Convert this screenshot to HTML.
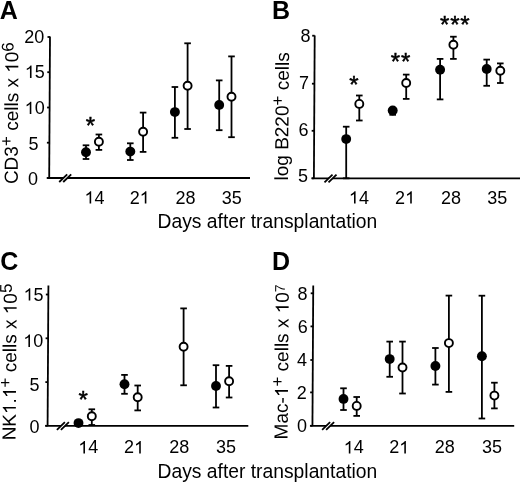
<!DOCTYPE html>
<html><head><meta charset="utf-8"><style>
html,body{margin:0;padding:0;background:#fff;width:520px;height:482px;overflow:hidden}
svg{display:block;will-change:transform}
text{font-family:"Liberation Sans", sans-serif;fill:#000}
</style></head><body>
<svg width="520" height="482" viewBox="0 0 520 482">
<rect width="520" height="482" fill="#fff"/>
<text x="-0.2" y="19.4" font-weight="bold" font-size="25">A</text>
<line x1="50.00" y1="36.5" x2="49.20" y2="178" stroke="#000" stroke-width="1.8"/>
<line x1="47.20" y1="178" x2="250" y2="178" stroke="#000" stroke-width="1.8"/>
<line x1="47.50" y1="37" x2="50.00" y2="37" stroke="#000" stroke-width="1.8"/>
<line x1="47.30" y1="72.2" x2="49.80" y2="72.2" stroke="#000" stroke-width="1.8"/>
<line x1="47.10" y1="107.5" x2="49.60" y2="107.5" stroke="#000" stroke-width="1.8"/>
<line x1="46.90" y1="142.7" x2="49.40" y2="142.7" stroke="#000" stroke-width="1.8"/>
<line x1="46.70" y1="178" x2="49.20" y2="178" stroke="#000" stroke-width="1.8"/>
<text x="34.25" y="43.35" text-anchor="middle" font-size="18">20</text>
<text x="34.85" y="77.95" text-anchor="middle" font-size="18">&#8199;5</text><path d="M763 0H583V1102Q518 1043 412.5 983T222 894V1061Q373 1129 486 1226T646 1409H763Z" transform="translate(24.83,77.95) scale(0.008789,-0.008789)"/>
<text x="34.65" y="114.05" text-anchor="middle" font-size="18">&#8199;0</text><path d="M763 0H583V1102Q518 1043 412.5 983T222 894V1061Q373 1129 486 1226T646 1409H763Z" transform="translate(24.63,114.05) scale(0.008789,-0.008789)"/>
<text x="33.5" y="149.95" text-anchor="middle" font-size="18">5</text>
<text x="33.0" y="185.25" text-anchor="middle" font-size="18">0</text>
<polygon points="59.2,182 67.2,174.3 71.2,174.3 63.2,182" fill="#fff"/>
<line x1="59.2" y1="182" x2="67.2" y2="174.3" stroke="#000" stroke-width="1.8"/>
<line x1="63.2" y1="182" x2="71.2" y2="174.3" stroke="#000" stroke-width="1.8"/>
<line x1="86" y1="145.3" x2="86" y2="159" stroke="#000" stroke-width="1.8"/>
<line x1="82.7" y1="145.3" x2="89.3" y2="145.3" stroke="#000" stroke-width="1.8"/>
<line x1="82.7" y1="159" x2="89.3" y2="159" stroke="#000" stroke-width="1.8"/>
<circle cx="86" cy="152.2" r="4.95" fill="#000"/>
<line x1="98.9" y1="134.5" x2="98.9" y2="149.9" stroke="#000" stroke-width="1.8"/>
<line x1="95.6" y1="134.5" x2="102.2" y2="134.5" stroke="#000" stroke-width="1.8"/>
<line x1="95.6" y1="149.9" x2="102.2" y2="149.9" stroke="#000" stroke-width="1.8"/>
<circle cx="98.9" cy="141.8" r="4.0" fill="#fff" stroke="#000" stroke-width="1.9"/>
<line x1="130.3" y1="143.3" x2="130.3" y2="160" stroke="#000" stroke-width="1.8"/>
<line x1="127.0" y1="143.3" x2="133.6" y2="143.3" stroke="#000" stroke-width="1.8"/>
<line x1="127.0" y1="160" x2="133.6" y2="160" stroke="#000" stroke-width="1.8"/>
<circle cx="130.3" cy="151.6" r="4.95" fill="#000"/>
<line x1="143.1" y1="112.6" x2="143.1" y2="151.9" stroke="#000" stroke-width="1.8"/>
<line x1="139.8" y1="112.6" x2="146.4" y2="112.6" stroke="#000" stroke-width="1.8"/>
<line x1="139.8" y1="151.9" x2="146.4" y2="151.9" stroke="#000" stroke-width="1.8"/>
<circle cx="143.1" cy="131.7" r="4.0" fill="#fff" stroke="#000" stroke-width="1.9"/>
<line x1="174.9" y1="87" x2="174.9" y2="137.8" stroke="#000" stroke-width="1.8"/>
<line x1="171.6" y1="87" x2="178.2" y2="87" stroke="#000" stroke-width="1.8"/>
<line x1="171.6" y1="137.8" x2="178.2" y2="137.8" stroke="#000" stroke-width="1.8"/>
<circle cx="174.9" cy="112.1" r="4.95" fill="#000"/>
<line x1="187.6" y1="43.3" x2="187.6" y2="129" stroke="#000" stroke-width="1.8"/>
<line x1="184.3" y1="43.3" x2="190.9" y2="43.3" stroke="#000" stroke-width="1.8"/>
<line x1="184.3" y1="129" x2="190.9" y2="129" stroke="#000" stroke-width="1.8"/>
<circle cx="187.6" cy="85.7" r="4.0" fill="#fff" stroke="#000" stroke-width="1.9"/>
<line x1="219.2" y1="80.4" x2="219.2" y2="130.2" stroke="#000" stroke-width="1.8"/>
<line x1="215.9" y1="80.4" x2="222.5" y2="80.4" stroke="#000" stroke-width="1.8"/>
<line x1="215.9" y1="130.2" x2="222.5" y2="130.2" stroke="#000" stroke-width="1.8"/>
<circle cx="219.2" cy="104.9" r="4.95" fill="#000"/>
<line x1="231.5" y1="56.4" x2="231.5" y2="137.2" stroke="#000" stroke-width="1.8"/>
<line x1="228.2" y1="56.4" x2="234.8" y2="56.4" stroke="#000" stroke-width="1.8"/>
<line x1="228.2" y1="137.2" x2="234.8" y2="137.2" stroke="#000" stroke-width="1.8"/>
<circle cx="231.5" cy="96.8" r="4.0" fill="#fff" stroke="#000" stroke-width="1.9"/>
<text x="94.5" y="203.6" text-anchor="middle" font-size="18">&#8199;4</text><path d="M763 0H583V1102Q518 1043 412.5 983T222 894V1061Q373 1129 486 1226T646 1409H763Z" transform="translate(84.48,203.60) scale(0.008789,-0.008789)"/>
<text x="139.7" y="203.6" text-anchor="middle" font-size="18">2&#8199;</text><path d="M763 0H583V1102Q518 1043 412.5 983T222 894V1061Q373 1129 486 1226T646 1409H763Z" transform="translate(139.68,203.60) scale(0.008789,-0.008789)"/>
<text x="185.5" y="203.6" text-anchor="middle" font-size="18">28</text>
<text x="231.7" y="203.6" text-anchor="middle" font-size="18">35</text>
<text x="90.4" y="134.0" text-anchor="middle" font-size="24" stroke="#000" stroke-width="0.5">*</text>
<text transform="translate(17.7,184.1) rotate(-90) skewY(0.3)" font-size="19">CD3<tspan dy="-5.8" font-size="17">+</tspan><tspan dy="5.8"> cells x &#8199;0</tspan><tspan dy="-5" font-size="17">6</tspan></text><g transform="translate(17.7,184.1) rotate(-90) skewY(0.3)"><path d="M763 0H583V1102Q518 1043 412.5 983T222 894V1061Q373 1129 486 1226T646 1409H763Z" transform="translate(111.30,0.00) scale(0.009277,-0.009277)"/></g>
<text x="272" y="19.3" font-weight="bold" font-size="25">B</text>
<line x1="314.70" y1="35.5" x2="313.90" y2="178.3" stroke="#000" stroke-width="1.8"/>
<line x1="311.90" y1="178.3" x2="520" y2="178.3" stroke="#000" stroke-width="1.8"/>
<line x1="312.20" y1="35.7" x2="314.70" y2="35.7" stroke="#000" stroke-width="1.8"/>
<line x1="311.93" y1="83.7" x2="314.43" y2="83.7" stroke="#000" stroke-width="1.8"/>
<line x1="311.67" y1="130.8" x2="314.17" y2="130.8" stroke="#000" stroke-width="1.8"/>
<line x1="311.40" y1="178.3" x2="313.90" y2="178.3" stroke="#000" stroke-width="1.8"/>
<text x="305.6" y="42.15" text-anchor="middle" font-size="18">8</text>
<text x="304.1" y="88.95" text-anchor="middle" font-size="18">7</text>
<text x="303.5" y="136.35" text-anchor="middle" font-size="18">6</text>
<text x="303" y="182.15" text-anchor="middle" font-size="18">5</text>
<polygon points="324.5,182.3 332.5,174.6 336.5,174.6 328.5,182.3" fill="#fff"/>
<line x1="324.5" y1="182.3" x2="332.5" y2="174.6" stroke="#000" stroke-width="1.8"/>
<line x1="328.5" y1="182.3" x2="336.5" y2="174.6" stroke="#000" stroke-width="1.8"/>
<line x1="346.2" y1="126.7" x2="346.2" y2="178.3" stroke="#000" stroke-width="1.8"/>
<line x1="342.9" y1="126.7" x2="349.5" y2="126.7" stroke="#000" stroke-width="1.8"/>
<line x1="342.9" y1="178.3" x2="349.5" y2="178.3" stroke="#000" stroke-width="1.8"/>
<circle cx="346.2" cy="139.1" r="4.95" fill="#000"/>
<line x1="359.3" y1="95.5" x2="359.3" y2="120.5" stroke="#000" stroke-width="1.8"/>
<line x1="356.0" y1="95.5" x2="362.6" y2="95.5" stroke="#000" stroke-width="1.8"/>
<line x1="356.0" y1="120.5" x2="362.6" y2="120.5" stroke="#000" stroke-width="1.8"/>
<circle cx="359.3" cy="103.9" r="4.0" fill="#fff" stroke="#000" stroke-width="1.9"/>
<line x1="392.7" y1="109" x2="392.7" y2="114.8" stroke="#000" stroke-width="1.8"/>
<line x1="389.4" y1="109" x2="396.0" y2="109" stroke="#000" stroke-width="1.8"/>
<line x1="389.4" y1="114.8" x2="396.0" y2="114.8" stroke="#000" stroke-width="1.8"/>
<circle cx="392.7" cy="110.5" r="4.95" fill="#000"/>
<line x1="406.2" y1="74.6" x2="406.2" y2="98.9" stroke="#000" stroke-width="1.8"/>
<line x1="402.9" y1="74.6" x2="409.5" y2="74.6" stroke="#000" stroke-width="1.8"/>
<line x1="402.9" y1="98.9" x2="409.5" y2="98.9" stroke="#000" stroke-width="1.8"/>
<circle cx="406.2" cy="83" r="4.0" fill="#fff" stroke="#000" stroke-width="1.9"/>
<line x1="440.1" y1="58.9" x2="440.1" y2="99.4" stroke="#000" stroke-width="1.8"/>
<line x1="436.8" y1="58.9" x2="443.4" y2="58.9" stroke="#000" stroke-width="1.8"/>
<line x1="436.8" y1="99.4" x2="443.4" y2="99.4" stroke="#000" stroke-width="1.8"/>
<circle cx="440.1" cy="69.8" r="4.95" fill="#000"/>
<line x1="453.4" y1="36.7" x2="453.4" y2="58.9" stroke="#000" stroke-width="1.8"/>
<line x1="450.1" y1="36.7" x2="456.7" y2="36.7" stroke="#000" stroke-width="1.8"/>
<line x1="450.1" y1="58.9" x2="456.7" y2="58.9" stroke="#000" stroke-width="1.8"/>
<circle cx="453.4" cy="44.7" r="4.0" fill="#fff" stroke="#000" stroke-width="1.9"/>
<line x1="486.7" y1="59.6" x2="486.7" y2="85.8" stroke="#000" stroke-width="1.8"/>
<line x1="483.4" y1="59.6" x2="490.0" y2="59.6" stroke="#000" stroke-width="1.8"/>
<line x1="483.4" y1="85.8" x2="490.0" y2="85.8" stroke="#000" stroke-width="1.8"/>
<circle cx="486.7" cy="69" r="4.95" fill="#000"/>
<line x1="500.3" y1="63.4" x2="500.3" y2="83" stroke="#000" stroke-width="1.8"/>
<line x1="497.0" y1="63.4" x2="503.6" y2="63.4" stroke="#000" stroke-width="1.8"/>
<line x1="497.0" y1="83" x2="503.6" y2="83" stroke="#000" stroke-width="1.8"/>
<circle cx="500.3" cy="70.8" r="4.0" fill="#fff" stroke="#000" stroke-width="1.9"/>
<text x="358.9" y="203.6" text-anchor="middle" font-size="18">&#8199;4</text><path d="M763 0H583V1102Q518 1043 412.5 983T222 894V1061Q373 1129 486 1226T646 1409H763Z" transform="translate(348.88,203.60) scale(0.008789,-0.008789)"/>
<text x="405.1" y="203.6" text-anchor="middle" font-size="18">2&#8199;</text><path d="M763 0H583V1102Q518 1043 412.5 983T222 894V1061Q373 1129 486 1226T646 1409H763Z" transform="translate(405.08,203.60) scale(0.008789,-0.008789)"/>
<text x="451" y="203.6" text-anchor="middle" font-size="18">28</text>
<text x="497.3" y="203.6" text-anchor="middle" font-size="18">35</text>
<text x="353.8" y="92.5" text-anchor="middle" font-size="24" stroke="#000" stroke-width="0.5">*</text>
<text x="401" y="69.8" text-anchor="middle" font-size="24" stroke="#000" stroke-width="0.5" letter-spacing="0.8">**</text>
<text x="455.3" y="33.3" text-anchor="middle" font-size="24" stroke="#000" stroke-width="0.5" letter-spacing="0.8">***</text>
<text transform="translate(288.0,180.5) rotate(-90) skewY(0.45)" font-size="19">log B220<tspan dy="-5.4" font-size="17">+</tspan><tspan dy="5.4"> cells</tspan></text>
<text x="267.4" y="227.6" text-anchor="middle" font-size="19.3">Days after transplantation</text>
<text x="0.2" y="270.2" font-weight="bold" font-size="25">C</text>
<line x1="48.40" y1="285.5" x2="47.60" y2="425.8" stroke="#000" stroke-width="1.8"/>
<line x1="45.60" y1="425.8" x2="248.3" y2="425.8" stroke="#000" stroke-width="1.8"/>
<line x1="45.85" y1="294.5" x2="48.35" y2="294.5" stroke="#000" stroke-width="1.8"/>
<line x1="45.60" y1="338.3" x2="48.10" y2="338.3" stroke="#000" stroke-width="1.8"/>
<line x1="45.35" y1="382.1" x2="47.85" y2="382.1" stroke="#000" stroke-width="1.8"/>
<line x1="45.10" y1="425.8" x2="47.60" y2="425.8" stroke="#000" stroke-width="1.8"/>
<text x="33.6" y="300.55" text-anchor="middle" font-size="18">&#8199;5</text><path d="M763 0H583V1102Q518 1043 412.5 983T222 894V1061Q373 1129 486 1226T646 1409H763Z" transform="translate(23.58,300.55) scale(0.008789,-0.008789)"/>
<text x="33.3" y="346.95" text-anchor="middle" font-size="18">&#8199;0</text><path d="M763 0H583V1102Q518 1043 412.5 983T222 894V1061Q373 1129 486 1226T646 1409H763Z" transform="translate(23.28,346.95) scale(0.008789,-0.008789)"/>
<text x="34.6" y="390.65" text-anchor="middle" font-size="18">5</text>
<text x="34.6" y="433.15" text-anchor="middle" font-size="18">0</text>
<polygon points="56.9,429.8 64.9,422.1 68.9,422.1 60.9,429.8" fill="#fff"/>
<line x1="56.9" y1="429.8" x2="64.9" y2="422.1" stroke="#000" stroke-width="1.8"/>
<line x1="60.9" y1="429.8" x2="68.9" y2="422.1" stroke="#000" stroke-width="1.8"/>
<circle cx="78.5" cy="423.1" r="4.95" fill="#000"/>
<line x1="91.8" y1="409.3" x2="91.8" y2="425" stroke="#000" stroke-width="1.8"/>
<line x1="88.5" y1="409.3" x2="95.1" y2="409.3" stroke="#000" stroke-width="1.8"/>
<line x1="88.5" y1="425" x2="95.1" y2="425" stroke="#000" stroke-width="1.8"/>
<circle cx="91.8" cy="416.3" r="4.0" fill="#fff" stroke="#000" stroke-width="1.9"/>
<line x1="124.5" y1="374.9" x2="124.5" y2="393.8" stroke="#000" stroke-width="1.8"/>
<line x1="121.2" y1="374.9" x2="127.8" y2="374.9" stroke="#000" stroke-width="1.8"/>
<line x1="121.2" y1="393.8" x2="127.8" y2="393.8" stroke="#000" stroke-width="1.8"/>
<circle cx="124.5" cy="384.3" r="4.95" fill="#000"/>
<line x1="137.7" y1="385.5" x2="137.7" y2="410.4" stroke="#000" stroke-width="1.8"/>
<line x1="134.4" y1="385.5" x2="141.0" y2="385.5" stroke="#000" stroke-width="1.8"/>
<line x1="134.4" y1="410.4" x2="141.0" y2="410.4" stroke="#000" stroke-width="1.8"/>
<circle cx="137.7" cy="397.3" r="4.0" fill="#fff" stroke="#000" stroke-width="1.9"/>
<line x1="183.6" y1="308.4" x2="183.6" y2="385.3" stroke="#000" stroke-width="1.8"/>
<line x1="180.3" y1="308.4" x2="186.9" y2="308.4" stroke="#000" stroke-width="1.8"/>
<line x1="180.3" y1="385.3" x2="186.9" y2="385.3" stroke="#000" stroke-width="1.8"/>
<circle cx="183.6" cy="346.7" r="4.0" fill="#fff" stroke="#000" stroke-width="1.9"/>
<line x1="216.0" y1="365.2" x2="216.0" y2="407.5" stroke="#000" stroke-width="1.8"/>
<line x1="212.7" y1="365.2" x2="219.3" y2="365.2" stroke="#000" stroke-width="1.8"/>
<line x1="212.7" y1="407.5" x2="219.3" y2="407.5" stroke="#000" stroke-width="1.8"/>
<circle cx="216.0" cy="386.0" r="4.95" fill="#000"/>
<line x1="229.1" y1="365.9" x2="229.1" y2="397.5" stroke="#000" stroke-width="1.8"/>
<line x1="225.8" y1="365.9" x2="232.4" y2="365.9" stroke="#000" stroke-width="1.8"/>
<line x1="225.8" y1="397.5" x2="232.4" y2="397.5" stroke="#000" stroke-width="1.8"/>
<circle cx="229.1" cy="381.3" r="4.0" fill="#fff" stroke="#000" stroke-width="1.9"/>
<text x="88.3" y="453.4" text-anchor="middle" font-size="18">&#8199;4</text><path d="M763 0H583V1102Q518 1043 412.5 983T222 894V1061Q373 1129 486 1226T646 1409H763Z" transform="translate(78.28,453.40) scale(0.008789,-0.008789)"/>
<text x="134.1" y="453.4" text-anchor="middle" font-size="18">2&#8199;</text><path d="M763 0H583V1102Q518 1043 412.5 983T222 894V1061Q373 1129 486 1226T646 1409H763Z" transform="translate(134.08,453.40) scale(0.008789,-0.008789)"/>
<text x="179.3" y="453.4" text-anchor="middle" font-size="18">28</text>
<text x="226" y="453.4" text-anchor="middle" font-size="18">35</text>
<text x="83.1" y="407.8" text-anchor="middle" font-size="24" stroke="#000" stroke-width="0.5">*</text>
<text transform="translate(15.6,440.35) rotate(-90) skewY(0.45)" font-size="19">NK&#8199;.&#8199;<tspan dy="-5.2" font-size="17">+</tspan><tspan dy="5.2"> cells x &#8199;0</tspan><tspan dy="-5" font-size="17">5</tspan></text><g transform="translate(15.6,440.35) rotate(-90) skewY(0.45)"><path d="M763 0H583V1102Q518 1043 412.5 983T222 894V1061Q373 1129 486 1226T646 1409H763Z" transform="translate(26.39,0.00) scale(0.009277,-0.009277)"/><path d="M763 0H583V1102Q518 1043 412.5 983T222 894V1061Q373 1129 486 1226T646 1409H763Z" transform="translate(42.23,0.00) scale(0.009277,-0.009277)"/><path d="M763 0H583V1102Q518 1043 412.5 983T222 894V1061Q373 1129 486 1226T646 1409H763Z" transform="translate(126.09,0.00) scale(0.009277,-0.009277)"/></g>
<text x="272" y="269.9" font-weight="bold" font-size="25">D</text>
<line x1="313.25" y1="285.5" x2="312.45" y2="425.8" stroke="#000" stroke-width="1.8"/>
<line x1="310.45" y1="425.8" x2="514.2" y2="425.8" stroke="#000" stroke-width="1.8"/>
<line x1="310.71" y1="293.3" x2="313.21" y2="293.3" stroke="#000" stroke-width="1.8"/>
<line x1="310.52" y1="326.4" x2="313.02" y2="326.4" stroke="#000" stroke-width="1.8"/>
<line x1="310.33" y1="360" x2="312.83" y2="360" stroke="#000" stroke-width="1.8"/>
<line x1="310.14" y1="392.4" x2="312.64" y2="392.4" stroke="#000" stroke-width="1.8"/>
<line x1="309.95" y1="425.8" x2="312.45" y2="425.8" stroke="#000" stroke-width="1.8"/>
<text x="302.5" y="299.75" text-anchor="middle" font-size="18">8</text>
<text x="302.7" y="333.15" text-anchor="middle" font-size="18">6</text>
<text x="302.1" y="365.65" text-anchor="middle" font-size="18">4</text>
<text x="301.7" y="399.35" text-anchor="middle" font-size="18">2</text>
<text x="301.9" y="432.35" text-anchor="middle" font-size="18">0</text>
<polygon points="322.1,429.8 330.1,422.1 334.1,422.1 326.1,429.8" fill="#fff"/>
<line x1="322.1" y1="429.8" x2="330.1" y2="422.1" stroke="#000" stroke-width="1.8"/>
<line x1="326.1" y1="429.8" x2="334.1" y2="422.1" stroke="#000" stroke-width="1.8"/>
<line x1="343.5" y1="388.3" x2="343.5" y2="410" stroke="#000" stroke-width="1.8"/>
<line x1="340.2" y1="388.3" x2="346.8" y2="388.3" stroke="#000" stroke-width="1.8"/>
<line x1="340.2" y1="410" x2="346.8" y2="410" stroke="#000" stroke-width="1.8"/>
<circle cx="343.5" cy="398.9" r="4.95" fill="#000"/>
<line x1="356.7" y1="397" x2="356.7" y2="415.9" stroke="#000" stroke-width="1.8"/>
<line x1="353.4" y1="397" x2="360.0" y2="397" stroke="#000" stroke-width="1.8"/>
<line x1="353.4" y1="415.9" x2="360.0" y2="415.9" stroke="#000" stroke-width="1.8"/>
<circle cx="356.7" cy="405.9" r="4.0" fill="#fff" stroke="#000" stroke-width="1.9"/>
<line x1="389.7" y1="341.6" x2="389.7" y2="376.8" stroke="#000" stroke-width="1.8"/>
<line x1="386.4" y1="341.6" x2="393.0" y2="341.6" stroke="#000" stroke-width="1.8"/>
<line x1="386.4" y1="376.8" x2="393.0" y2="376.8" stroke="#000" stroke-width="1.8"/>
<circle cx="389.7" cy="359.1" r="4.95" fill="#000"/>
<line x1="402.5" y1="341.6" x2="402.5" y2="393.5" stroke="#000" stroke-width="1.8"/>
<line x1="399.2" y1="341.6" x2="405.8" y2="341.6" stroke="#000" stroke-width="1.8"/>
<line x1="399.2" y1="393.5" x2="405.8" y2="393.5" stroke="#000" stroke-width="1.8"/>
<circle cx="402.5" cy="367.5" r="4.0" fill="#fff" stroke="#000" stroke-width="1.9"/>
<line x1="435.4" y1="348" x2="435.4" y2="384.6" stroke="#000" stroke-width="1.8"/>
<line x1="432.1" y1="348" x2="438.7" y2="348" stroke="#000" stroke-width="1.8"/>
<line x1="432.1" y1="384.6" x2="438.7" y2="384.6" stroke="#000" stroke-width="1.8"/>
<circle cx="435.4" cy="366.0" r="4.95" fill="#000"/>
<line x1="448.9" y1="295.6" x2="448.9" y2="391.9" stroke="#000" stroke-width="1.8"/>
<line x1="445.6" y1="295.6" x2="452.2" y2="295.6" stroke="#000" stroke-width="1.8"/>
<line x1="445.6" y1="391.9" x2="452.2" y2="391.9" stroke="#000" stroke-width="1.8"/>
<circle cx="448.9" cy="343.1" r="4.0" fill="#fff" stroke="#000" stroke-width="1.9"/>
<line x1="481.9" y1="295.7" x2="481.9" y2="418.5" stroke="#000" stroke-width="1.8"/>
<line x1="478.6" y1="295.7" x2="485.2" y2="295.7" stroke="#000" stroke-width="1.8"/>
<line x1="478.6" y1="418.5" x2="485.2" y2="418.5" stroke="#000" stroke-width="1.8"/>
<circle cx="481.9" cy="356.3" r="4.95" fill="#000"/>
<line x1="494.4" y1="382.7" x2="494.4" y2="408.4" stroke="#000" stroke-width="1.8"/>
<line x1="491.1" y1="382.7" x2="497.7" y2="382.7" stroke="#000" stroke-width="1.8"/>
<line x1="491.1" y1="408.4" x2="497.7" y2="408.4" stroke="#000" stroke-width="1.8"/>
<circle cx="494.4" cy="395.6" r="4.0" fill="#fff" stroke="#000" stroke-width="1.9"/>
<text x="353.7" y="453.4" text-anchor="middle" font-size="18">&#8199;4</text><path d="M763 0H583V1102Q518 1043 412.5 983T222 894V1061Q373 1129 486 1226T646 1409H763Z" transform="translate(343.68,453.40) scale(0.008789,-0.008789)"/>
<text x="399.2" y="453.4" text-anchor="middle" font-size="18">2&#8199;</text><path d="M763 0H583V1102Q518 1043 412.5 983T222 894V1061Q373 1129 486 1226T646 1409H763Z" transform="translate(399.18,453.40) scale(0.008789,-0.008789)"/>
<text x="444.7" y="453.4" text-anchor="middle" font-size="18">28</text>
<text x="491.9" y="453.4" text-anchor="middle" font-size="18">35</text>
<text transform="translate(287.6,439.4) rotate(-90) skewY(0.45)" font-size="19">Mac-&#8199;<tspan dy="-5" font-size="17">+</tspan><tspan dy="5"> cells x &#8199;0</tspan><tspan dy="-4" font-size="14">7</tspan></text><g transform="translate(287.6,439.4) rotate(-90) skewY(0.45)"><path d="M763 0H583V1102Q518 1043 412.5 983T222 894V1061Q373 1129 486 1226T646 1409H763Z" transform="translate(42.22,0.00) scale(0.009277,-0.009277)"/><path d="M763 0H583V1102Q518 1043 412.5 983T222 894V1061Q373 1129 486 1226T646 1409H763Z" transform="translate(126.08,0.00) scale(0.009277,-0.009277)"/></g>
<text x="267.4" y="477.7" text-anchor="middle" font-size="19.3">Days after transplantation</text>
</svg>
</body></html>
